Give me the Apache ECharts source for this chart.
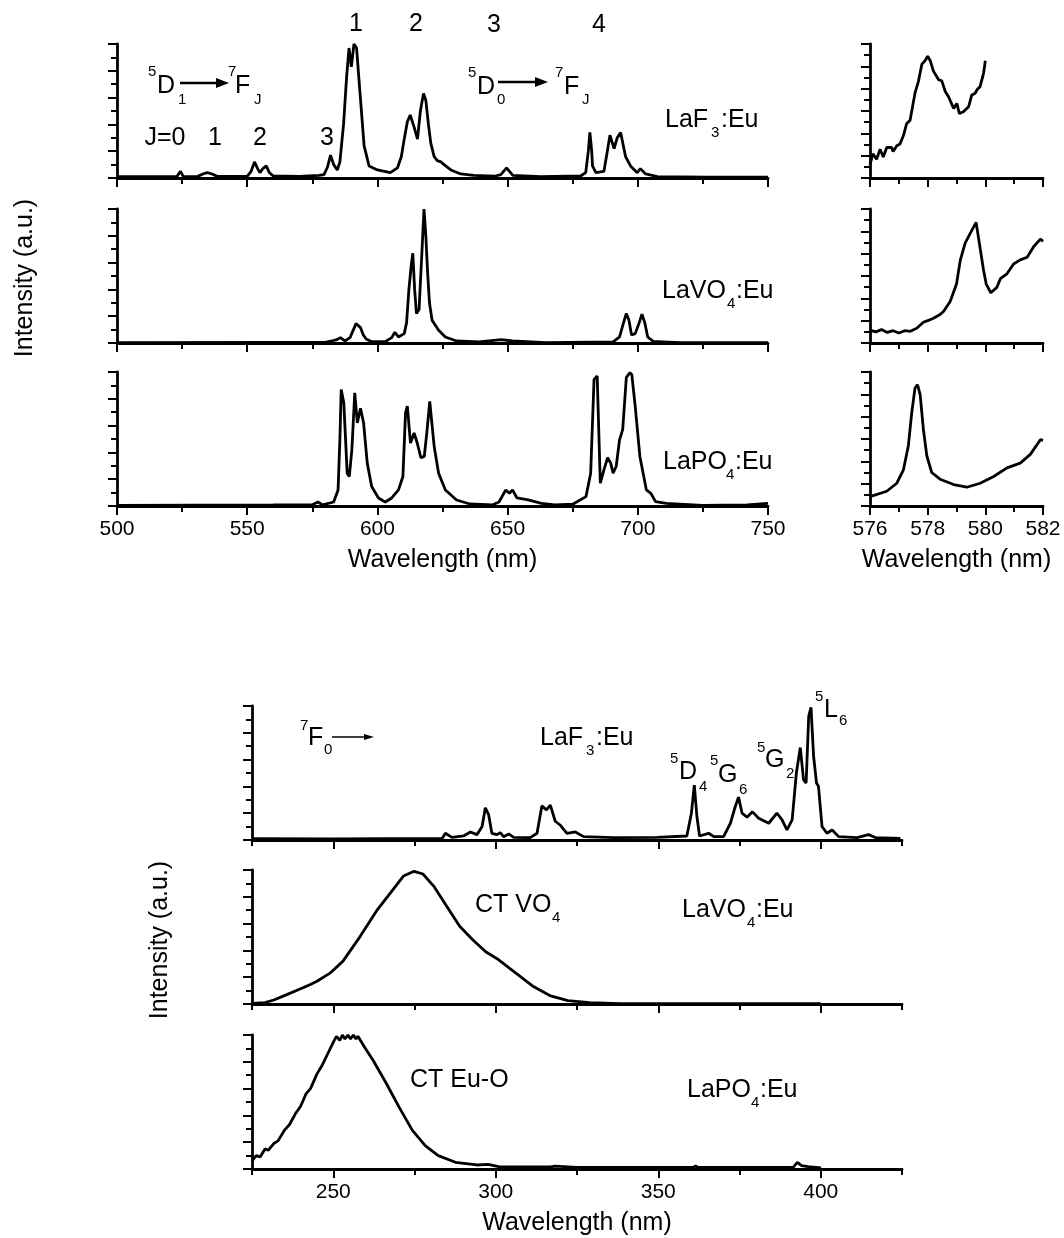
<!DOCTYPE html>
<html lang="en">
<head>
<meta charset="UTF-8">
<title>Eu emission / excitation spectra</title>
<style>
  html, body { margin: 0; padding: 0; background: #fff; }
  #main { width: 1064px; height: 1238px; }
</style>
</head>
<body>
<div id="main"></div>
<script src="https://cdn.jsdelivr.net/npm/echarts@6/dist/echarts.min.js"></script>
<script>
// emission spectra, 500-750 nm  [wavelength, relative intensity]
const emLaF3 = [[500,0.01],[515,0.01],[523,0.012],[524.4,0.05],[525.5,0.01],[531,0.012],[533,0.03],[534.6,0.04],[536.5,0.03],[538.5,0.012],[550,0.012],[551.5,0.05],[552.8,0.12],[554,0.07],[554.9,0.04],[556,0.07],[557.3,0.09],[558.5,0.04],[560,0.015],[570,0.012],[577.6,0.02],[579.5,0.025],[580.8,0.08],[582,0.17],[583.2,0.1],[584.6,0.06],[585.6,0.12],[587,0.4],[588.2,0.76],[589.1,0.97],[590,0.83],[591,1.0],[592,0.97],[593.3,0.64],[594.9,0.24],[596.8,0.09],[600,0.06],[605,0.04],[607.7,0.075],[609.2,0.16],[610.3,0.29],[611.5,0.42],[612.6,0.47],[614.1,0.38],[615.4,0.29],[616.5,0.5],[617.7,0.63],[618.6,0.58],[619.6,0.4],[620.5,0.26],[621.8,0.16],[623,0.13],[624.4,0.12],[625.6,0.1],[628.2,0.06],[632,0.03],[637,0.02],[645,0.013],[647.4,0.025],[649.6,0.075],[652,0.02],[662.8,0.01],[678,0.015],[680,0.04],[681,0.2],[681.6,0.34],[682.3,0.2],[682.6,0.09],[683.9,0.04],[687,0.05],[688.3,0.2],[689.3,0.32],[690.9,0.22],[692.1,0.3],[693.4,0.34],[695.3,0.16],[697.2,0.09],[699.8,0.04],[701,0.07],[703,0.03],[707.5,0.01],[726.7,0.007],[750,0.007]];
const emLaVO4 = [[500,0.003],[560,0.005],[580,0.005],[582.4,0.015],[584.5,0.025],[585.8,0.04],[587.5,0.015],[589.5,0.04],[590.8,0.1],[591.8,0.145],[593.5,0.115],[594.6,0.06],[595.7,0.03],[597.8,0.01],[603,0.01],[605.5,0.04],[606.7,0.08],[608.1,0.045],[610.3,0.07],[611.2,0.15],[612.1,0.4],[613,0.58],[613.6,0.67],[614.3,0.4],[615,0.22],[616,0.25],[617,0.64],[617.9,1.0],[618.6,0.8],[619.3,0.52],[620,0.3],[621,0.17],[623.5,0.095],[626.1,0.045],[630.4,0.015],[639,0.008],[647.6,0.025],[651.9,0.015],[664.7,0.003],[690.5,0.008],[693,0.045],[694.5,0.15],[695.6,0.22],[696.6,0.17],[697.6,0.06],[699,0.07],[700.5,0.15],[701.6,0.215],[702.7,0.15],[703.8,0.045],[705.9,0.012],[716.2,0.003],[750,0.003]];
const emLaPO4 = [[500,0.005],[560,0.008],[575,0.01],[577.2,0.03],[578.9,0.008],[583.2,0.03],[584.9,0.12],[585.6,0.5],[586.1,0.87],[587.1,0.77],[588.4,0.245],[589.2,0.22],[590.2,0.42],[591.3,0.845],[592.3,0.62],[593.5,0.73],[594.7,0.62],[596.1,0.32],[597.8,0.145],[600.4,0.06],[603,0.03],[605.5,0.06],[608.1,0.12],[609.8,0.22],[610.8,0.695],[611.5,0.745],[612.7,0.47],[614.1,0.545],[615.3,0.47],[616.7,0.36],[618,0.37],[619,0.55],[620.1,0.78],[621.8,0.445],[623.5,0.245],[626.1,0.12],[630.4,0.045],[635.5,0.015],[644.1,0.008],[646.7,0.03],[649.3,0.12],[650.7,0.095],[651.9,0.12],[653.6,0.06],[657.9,0.045],[663,0.02],[668.1,0.008],[675,0.013],[680.1,0.07],[681.9,0.245],[683.2,0.945],[684.4,0.97],[685.6,0.17],[687,0.27],[688.4,0.36],[689.6,0.32],[690.5,0.245],[691.7,0.295],[693,0.495],[694.2,0.57],[695.6,0.96],[697,0.995],[697.7,0.98],[699,0.745],[700.8,0.37],[703.3,0.12],[705,0.095],[706.8,0.033],[711,0.02],[724.8,0.005],[742,0.008],[750,0.02]];

// 5D0 -> 7F0 region, 576-582 nm
const zoomLaF3 = [[576,1.2],[576.1,2.16],[576.23,1.68],[576.35,2.58],[576.46,1.88],[576.58,2.73],[576.75,2.73],[576.8,2.37],[576.93,2.89],[577.04,3.04],[577.16,3.8],[577.27,4.86],[577.39,5.17],[577.56,7.6],[577.68,8.66],[577.8,10.2],[577.91,10.5],[578,10.9],[578.09,10.5],[578.2,9.57],[578.38,8.8],[578.49,8.7],[578.61,7.75],[578.72,7.3],[578.9,6.23],[579.01,6.68],[579.1,5.77],[579.24,5.93],[579.42,6.38],[579.53,7.44],[579.65,7.6],[579.71,7.9],[579.82,8.2],[579.94,9.4],[580,10.5]];
const zoomLaVO4 = [[576,1.16],[576.2,1.0],[576.4,1.2],[576.6,0.95],[576.8,1.1],[577,0.9],[577.2,1.1],[577.4,1.05],[577.62,1.32],[577.85,1.86],[578,2.0],[578.2,2.22],[578.4,2.5],[578.55,2.82],[578.78,3.72],[579,5.28],[579.13,7.4],[579.3,8.94],[579.48,9.84],[579.68,10.8],[579.94,6.5],[580.03,5.28],[580.19,4.5],[580.4,4.98],[580.52,5.76],[580.75,6.2],[580.98,7.08],[581.21,7.44],[581.45,7.68],[581.68,8.64],[581.91,9.3],[582,9.1]];
const zoomLaPO4 = [[576,0.84],[576.58,1.32],[576.93,2.04],[577.16,3.24],[577.33,5.4],[577.45,8.4],[577.56,10.56],[577.65,10.86],[577.74,9.96],[577.85,6.9],[577.97,4.5],[578.14,3.0],[578.43,2.4],[578.9,1.92],[579.36,1.68],[579.82,2.04],[580.29,2.64],[580.75,3.42],[581.21,3.84],[581.56,4.62],[581.91,5.94],[582,5.88]];

// excitation spectra, 225-425 nm
const exLaF3 = [[225,0.01],[250,0.008],[283.5,0.012],[284.5,0.05],[286.5,0.02],[290.1,0.03],[292.2,0.06],[294.2,0.04],[295.8,0.1],[296.8,0.24],[297.8,0.19],[298.8,0.05],[300.4,0.04],[301.4,0.055],[302.4,0.025],[304,0.045],[305.5,0.02],[310.6,0.018],[312.7,0.05],[314.2,0.255],[315.6,0.225],[316.8,0.26],[318.3,0.14],[319.9,0.11],[321.9,0.05],[324.5,0.06],[327,0.025],[336.3,0.018],[349.6,0.02],[358.8,0.03],[360.2,0.2],[361.1,0.41],[361.9,0.175],[362.7,0.03],[365.5,0.05],[367.1,0.025],[370.1,0.025],[372.2,0.125],[373.7,0.25],[374.7,0.32],[375.8,0.2],[377.3,0.17],[379,0.21],[380.9,0.163],[384,0.125],[386.5,0.2],[388.1,0.15],[389.6,0.075],[391.2,0.15],[392.5,0.5],[393.7,0.69],[394.7,0.45],[395.5,0.425],[396.3,0.925],[397,0.99],[397.8,0.625],[398.7,0.425],[399.3,0.4],[400.4,0.1],[401.9,0.05],[403.5,0.075],[405.5,0.025],[411.2,0.018],[414.7,0.04],[416.8,0.018],[424.5,0.012]];
const exLaVO4 = [[225,0.005],[229,0.01],[231.7,0.03],[235.7,0.07],[239.6,0.11],[242,0.135],[245,0.17],[249,0.23],[253,0.32],[258.3,0.505],[263.6,0.705],[267.6,0.83],[271.6,0.955],[274.9,0.99],[277.6,0.97],[280.9,0.88],[284.9,0.73],[288.9,0.58],[292.9,0.48],[296.9,0.39],[300.9,0.33],[306.2,0.23],[311.6,0.13],[316.9,0.06],[322.2,0.025],[328.9,0.01],[338.2,0.003],[400,0.002]];
const exLaPO4 = [[225,0.06],[226.3,0.1],[227.5,0.09],[229,0.15],[230,0.14],[231.7,0.19],[233,0.21],[235,0.29],[236.5,0.33],[238.3,0.41],[240,0.47],[241.6,0.56],[243,0.6],[245,0.71],[246.5,0.77],[248.3,0.86],[250.3,0.96],[251,0.99],[252,0.96],[252.8,1.0],[253.6,0.97],[254.5,1.0],[255.3,0.97],[256.2,1.0],[257,0.97],[257.6,0.99],[259.6,0.91],[262.3,0.81],[266.3,0.64],[270.3,0.46],[274.3,0.29],[278.3,0.175],[282.3,0.1],[287.6,0.05],[294.2,0.03],[297.6,0.035],[300.9,0.018],[316.9,0.015],[318.3,0.022],[324.9,0.012],[360.8,0.012],[361.5,0.022],[362.2,0.012],[391.5,0.012],[392.8,0.05],[394.1,0.025],[396.1,0.018],[400.1,0.008]];

// tick values for the excitation axis (min 225 is not a multiple of 50)
const exMajorTicks = [250, 300, 350, 400];
const exMinorTicks = [225, 275, 325, 375, 425];

const FONT = 'Liberation Sans, Arial, sans-serif';
const BLACK = '#000';

// left, top, width, height of each panel + axis ranges
const panels = [
  { data: emLaF3,    box: [117, 44, 651, 134],  x: [500, 750, 50], y: [0, 1, 0.2] },
  { data: emLaVO4,   box: [117, 209, 651, 134], x: [500, 750, 50], y: [0, 1, 0.2] },
  { data: emLaPO4,   box: [117, 372, 651, 134], x: [500, 750, 50], y: [0, 1, 0.2], labels: true },
  { data: zoomLaF3,  box: [870, 44, 173, 134],  x: [576, 582, 2],  y: [0, 12, 2] },
  { data: zoomLaVO4, box: [870, 209, 173, 134], x: [576, 582, 2],  y: [0, 12, 2] },
  { data: zoomLaPO4, box: [870, 372, 173, 134], x: [576, 582, 2],  y: [0, 12, 2], labels: true },
  { data: exLaF3,    box: [252, 706, 650, 134], x: [225, 425, 50], y: [0, 1, 0.2] },
  { data: exLaVO4,   box: [252, 870, 650, 134], x: [225, 425, 50], y: [0, 1, 0.2] },
  { data: exLaPO4,   box: [252, 1035, 650, 134], x: [225, 425, 50], y: [0, 1, 0.2], labels: true }
];

const tickStyle = { color: BLACK, width: 2 };
const grids = [], xAxes = [], yAxes = [], series = [];

panels.forEach((p, i) => {
  grids.push({ left: p.box[0], top: p.box[1], width: p.box[2], height: p.box[3] });

  const xa = {
    type: 'value', gridIndex: i, position: 'bottom',
    min: p.x[0], max: p.x[1],
    splitLine: { show: false },
    axisLine: { onZero: false, lineStyle: { color: BLACK, width: 2.8 } },
    axisTick: { length: 9, lineStyle: tickStyle },
    minorTick: { show: true, splitNumber: 2, length: 6, lineStyle: tickStyle },
    axisLabel: { show: !!p.labels, color: BLACK, fontSize: 21, fontFamily: FONT, margin: 13 },
    name: p.labels ? 'Wavelength (nm)' : '',
    nameLocation: 'middle', nameGap: 42,
    nameTextStyle: { color: BLACK, fontSize: 25, fontFamily: FONT }
  };
  const custom = p.x[0] % p.x[2] !== 0;
  if (!custom) {
    xa.interval = p.x[2];
  } else {
    xa.minorTick.show = false;
    xa.axisTick.customValues = exMajorTicks;
    xa.axisLabel.customValues = exMajorTicks;
  }
  const xIndex = xAxes.length;
  xAxes.push(xa);
  if (custom) {
    xAxes.push({
      type: 'value', gridIndex: i, position: 'bottom',
      min: p.x[0], max: p.x[1],
      splitLine: { show: false },
      axisLine: { show: false },
      axisLabel: { show: false },
      axisTick: { length: 6, customValues: exMinorTicks, lineStyle: tickStyle }
    });
  }

  yAxes.push({
    type: 'value', gridIndex: i,
    min: p.y[0], max: p.y[1], interval: p.y[2],
    splitLine: { show: false },
    axisLine: { onZero: false, lineStyle: { color: BLACK, width: 2.8 } },
    axisTick: { length: 9, lineStyle: tickStyle },
    minorTick: { show: true, splitNumber: 2, length: 6, lineStyle: tickStyle },
    axisLabel: { show: false }
  });

  series.push({
    type: 'line', xAxisIndex: xIndex, yAxisIndex: i,
    data: p.data, showSymbol: false, symbol: 'none',
    lineStyle: { color: BLACK, width: 2.8 },
    animation: false
  });
});

// text pieces: [x, centre y, text, size, align]
const notes = [
  [356, 24, '1', 25, 'center'], [416, 24, '2', 25, 'center'],
  [494, 25, '3', 25, 'center'], [599, 25, '4', 25, 'center'],
  [148, 72, '5', 15], [157, 86, 'D', 25], [178, 100, '1', 15],
  [228, 72, '7', 15], [235, 86, 'F', 25], [254, 100, 'J', 15],
  [165, 138, 'J=0', 25, 'center'], [215, 138, '1', 25, 'center'],
  [260, 138, '2', 25, 'center'], [327, 138, '3', 25, 'center'],
  [468, 73, '5', 15], [477, 87, 'D', 25], [497, 100, '0', 15],
  [555, 73, '7', 15], [564, 87, 'F', 25], [582, 100, 'J', 15],
  [665, 120, 'LaF', 25], [711, 133, '3', 15], [721, 120, ':Eu', 25],
  [662, 291, 'LaVO', 25], [727, 304, '4', 15], [736, 291, ':Eu', 25],
  [663, 462, 'LaPO', 25], [726, 475, '4', 15], [735, 462, ':Eu', 25],
  [300, 726, '7', 15], [308, 738, 'F', 25], [324, 750, '0', 15],
  [540, 738, 'LaF', 25], [586, 751, '3', 15], [596, 738, ':Eu', 25],
  [670, 759, '5', 15], [679, 772, 'D', 25], [699, 787, '4', 15],
  [710, 761, '5', 15], [718, 775, 'G', 25], [739, 790, '6', 15],
  [757, 748, '5', 15], [765, 760, 'G', 25], [786, 774, '2', 15],
  [815, 697, '5', 15], [824, 710, 'L', 25], [839, 721, '6', 15],
  [475, 905, 'CT VO', 25], [552, 918, '4', 15],
  [682, 910, 'LaVO', 25], [747, 923, '4', 15], [756, 910, ':Eu', 25],
  [410, 1080, 'CT Eu-O', 25],
  [687, 1090, 'LaPO', 25], [751, 1103, '4', 15], [760, 1090, ':Eu', 25]
];

const graphics = notes.map(n => ({
  type: 'text', x: n[0], y: n[1], silent: true,
  style: {
    text: n[2], fill: BLACK, fontSize: n[3], fontFamily: FONT,
    align: n[4] || 'left', textAlign: n[4] || 'left',
    verticalAlign: 'middle', textVerticalAlign: 'middle'
  }
}));

// y-axis titles
[[25, 278], [160, 940]].forEach(pos => {
  graphics.push({
    type: 'text', x: pos[0], y: pos[1], rotation: Math.PI / 2, silent: true,
    style: {
      text: 'Intensity (a.u.)', fill: BLACK, fontSize: 25, fontFamily: FONT,
      align: 'center', textAlign: 'center', verticalAlign: 'middle', textVerticalAlign: 'middle'
    }
  });
});

// transition arrows: [x1, x2, y, line width, head length, head half-height]
const arrows = [[180, 229, 83, 2.5, 13, 5], [498, 548, 82, 2.5, 13, 5], [332, 374, 737, 1.5, 10, 3]];
arrows.forEach(a => {
  graphics.push({ type: 'line', silent: true, shape: { x1: a[0], y1: a[2], x2: a[1] - a[4] + 2, y2: a[2] }, style: { stroke: BLACK, lineWidth: a[3] } });
  graphics.push({ type: 'polygon', silent: true, shape: { points: [[a[1] - a[4], a[2] - a[5]], [a[1], a[2]], [a[1] - a[4], a[2] + a[5]]] }, style: { fill: BLACK } });
});

const chart = echarts.init(document.getElementById('main'));
chart.setOption({
  animation: false,
  backgroundColor: '#fff',
  grid: grids,
  xAxis: xAxes,
  yAxis: yAxes,
  series: series,
  graphic: graphics
});
</script>
</body>
</html>
